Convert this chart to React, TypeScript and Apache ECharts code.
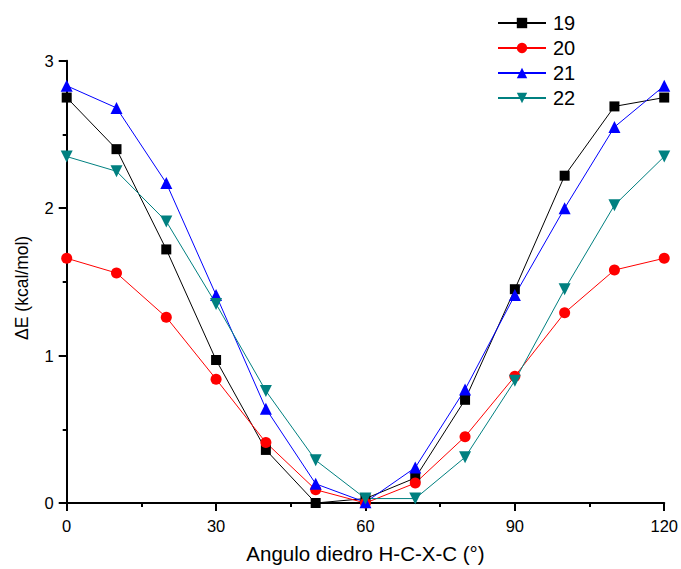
import React, { useEffect, useRef } from "react";
import * as echarts from "echarts";

const angles = [0, 10, 20, 30, 40, 50, 60, 70, 80, 90, 100, 110, 120];
const s19 = [2.75, 2.4, 1.72, 0.97, 0.36, 0.0, 0.03, 0.17, 0.7, 1.45, 2.22, 2.69, 2.75];
const s20 = [1.66, 1.56, 1.26, 0.84, 0.41, 0.09, 0.0, 0.135, 0.45, 0.86, 1.29, 1.58, 1.66];
const s21 = [2.83, 2.68, 2.17, 1.41, 0.64, 0.13, 0.005, 0.24, 0.77, 1.41, 2.0, 2.55, 2.83];
const s22 = [2.35, 2.25, 1.91, 1.35, 0.76, 0.29, 0.03, 0.03, 0.31, 0.83, 1.45, 2.02, 2.35];
const names = ["19", "20", "21", "22"];
const colors = ["#000000", "#ff0000", "#0000ff", "#008080"];

export default function App() {
  const ref = useRef<HTMLDivElement>(null);
  useEffect(() => {
    if (!ref.current) return;
    const chart = echarts.init(ref.current, undefined, { renderer: "svg" });
    const mk = (name: string, vals: number[], color: string, symbol: string, size: number, rotate = 0) => ({
      name,
      type: "line",
      data: angles.map((a, i) => [a, vals[i]]),
      symbol,
      symbolSize: size,
      symbolRotate: rotate,
      showAllSymbol: true,
      clip: false,
      lineStyle: { color, width: 1 },
      itemStyle: { color, borderWidth: 0 },
      emphasis: { disabled: true },
    });
    const font = "Liberation Sans, Arial, sans-serif";
    chart.setOption({
      animation: false,
      textStyle: { fontFamily: font },
      grid: { left: 66.7, right: 16.3, top: 60.7, bottom: 65, containLabel: false },
      legend: {
        orient: "vertical",
        left: 492,
        top: 8,
        itemWidth: 48,
        itemHeight: 13,
        itemGap: 5,
        textStyle: { fontSize: 20, color: "#000", fontFamily: font, padding: [2, 0, 0, 2] },
        data: names,
      },
      xAxis: {
        type: "value",
        min: 0,
        max: 120,
        interval: 30,
        name: "Angulo diedro H-C-X-C (°)",
        nameLocation: "middle",
        nameGap: 40,
        nameTextStyle: { fontSize: 20.5, color: "#000", fontFamily: font },
        axisLine: { show: true, onZero: false, lineStyle: { color: "#000", width: 2 } },
        axisTick: { show: true, inside: false, length: 8, lineStyle: { color: "#000", width: 2 } },
        minorTick: { show: true, splitNumber: 2, length: 4, lineStyle: { color: "#000", width: 2 } },
        axisLabel: { fontSize: 16.5, color: "#000", margin: 14, fontFamily: font },
        splitLine: { show: false },
      },
      yAxis: {
        type: "value",
        min: 0,
        max: 3,
        interval: 1,
        name: "ΔE (kcal/mol)",
        nameLocation: "middle",
        nameGap: 36,
        nameTextStyle: { fontSize: 17.5, color: "#000", fontFamily: font, padding: [0, 0, 0, -12] },
        axisLine: { show: true, onZero: false, lineStyle: { color: "#000", width: 2 } },
        axisTick: { show: true, inside: false, length: 8, lineStyle: { color: "#000", width: 2 } },
        minorTick: { show: true, splitNumber: 2, length: 4, lineStyle: { color: "#000", width: 2 } },
        axisLabel: { fontSize: 16.5, color: "#000", margin: 13, fontFamily: font },
        splitLine: { show: false },
      },
      series: [
        mk(names[0], s19, colors[0], "rect", 10),
        mk(names[1], s20, colors[1], "circle", 11),
        mk(names[2], s21, colors[2], "triangle", 12),
        mk(names[3], s22, colors[3], "triangle", 12, 180),
      ],
    });
    return () => chart.dispose();
  }, []);
  return <div ref={ref} style={{ width: 681, height: 569, position: "absolute", left: 0, top: 0 }} />;
}
